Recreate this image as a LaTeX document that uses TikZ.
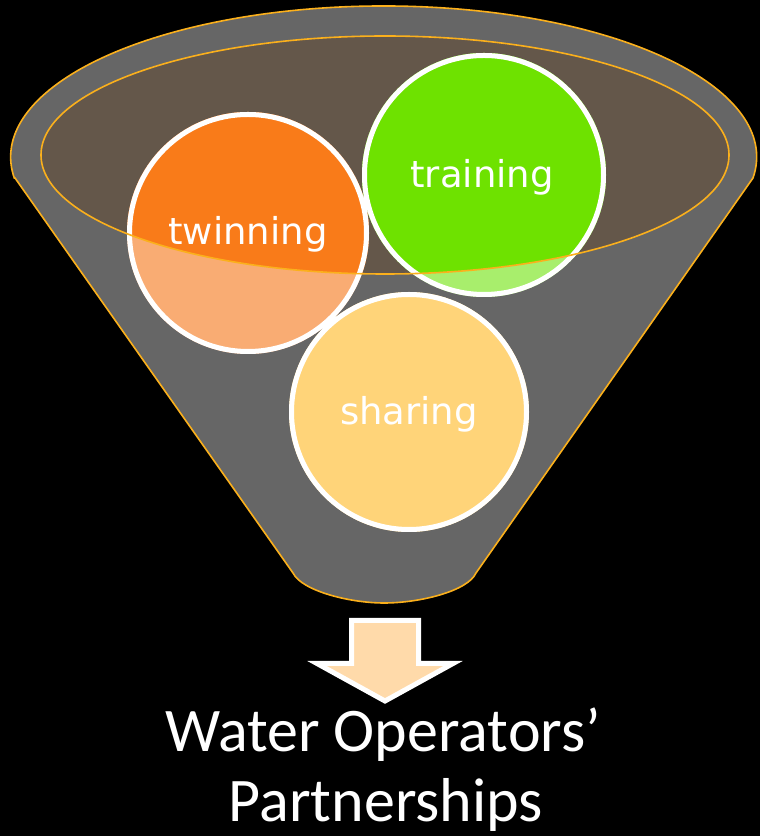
\documentclass[tikz,border=0pt]{standalone}
\usepackage{fontspec}
\newfontfamily\calfont{Carlito}
\newfontfamily\verfont{DejaVu Sans}
\definecolor{funnel}{HTML}{666666}
\definecolor{rim}{HTML}{FBB01C}
\definecolor{mouth}{HTML}{64574A}
\definecolor{orangeL}{HTML}{F9AC73}
\definecolor{orangeD}{HTML}{F97B19}
\definecolor{greenL}{HTML}{A8EE6C}
\definecolor{greenD}{HTML}{6EE200}
\definecolor{sand}{HTML}{FFD479}
\definecolor{peach}{HTML}{FFDAAA}

\begin{document}
\begin{tikzpicture}[x=1pt,y=1pt]
	\useasboundingbox (0,0) rectangle (760,836);
	\fill[black] (-3,-3) rectangle (763,839);
	% funnel body
	\filldraw[fill=funnel, draw=rim, line width=1.6pt] (15,658)--(293,263) .. controls (302,245) and (350,233) .. (384,233) .. controls (420,233) and (468,245) .. (476,263)--(753,658) arc[start angle=-8, end angle=188, x radius=373, y radius=151]--cycle;
	\fill[mouth] (385,681) ellipse (344 and 119);
	
	\fill[orangeL] (248,603) circle (121);
	\fill[greenL] (484,661) circle (122);
	\fill[sand] (409,424) circle (120);
	\begin{scope}
		\clip (385,681) ellipse (344 and 119);
		\fill[orangeD] (248,603) circle (121);
		\fill[greenD] (484,661) circle (122);
	\end{scope}
	\draw[white, line width=5pt] (248,603) circle (118.5) (484,661) circle (119.5) (409,424) circle (117.5);
	\draw[rim, line width=1.6pt] (385,681) ellipse (344 and 119);
	
	\node[white, anchor=base, inner sep=0] (twin) at (248,591) {\verfont\fontsize{37}{40}\selectfont twinning};
	\node[white, anchor=base, inner sep=0] (train) at (482,648) {\verfont\fontsize{37}{40}\selectfont training};
	\node[white, anchor=base, inner sep=0] (share) at (409,411) {\verfont\fontsize{37}{40}\selectfont sharing};
	
	% block arrow
	\filldraw[fill=peach, draw=white, line width=5pt, line join=miter] (351.5,215.5)--(418.5,215.5)--(418.5,172.5)--(453,172.5)--(385,135)--(317,172.5)--(351.5,172.5)--cycle;
	
	\node[white, anchor=base, inner sep=0] (wop) at (383,84) {\calfont\fontsize{62}{70}\selectfont Water Operators’};
	\node[white, anchor=base, inner sep=0] (part) at (386,14) {\calfont\fontsize{62}{70}\selectfont Partnerships};
\end{tikzpicture}
\end{document}
